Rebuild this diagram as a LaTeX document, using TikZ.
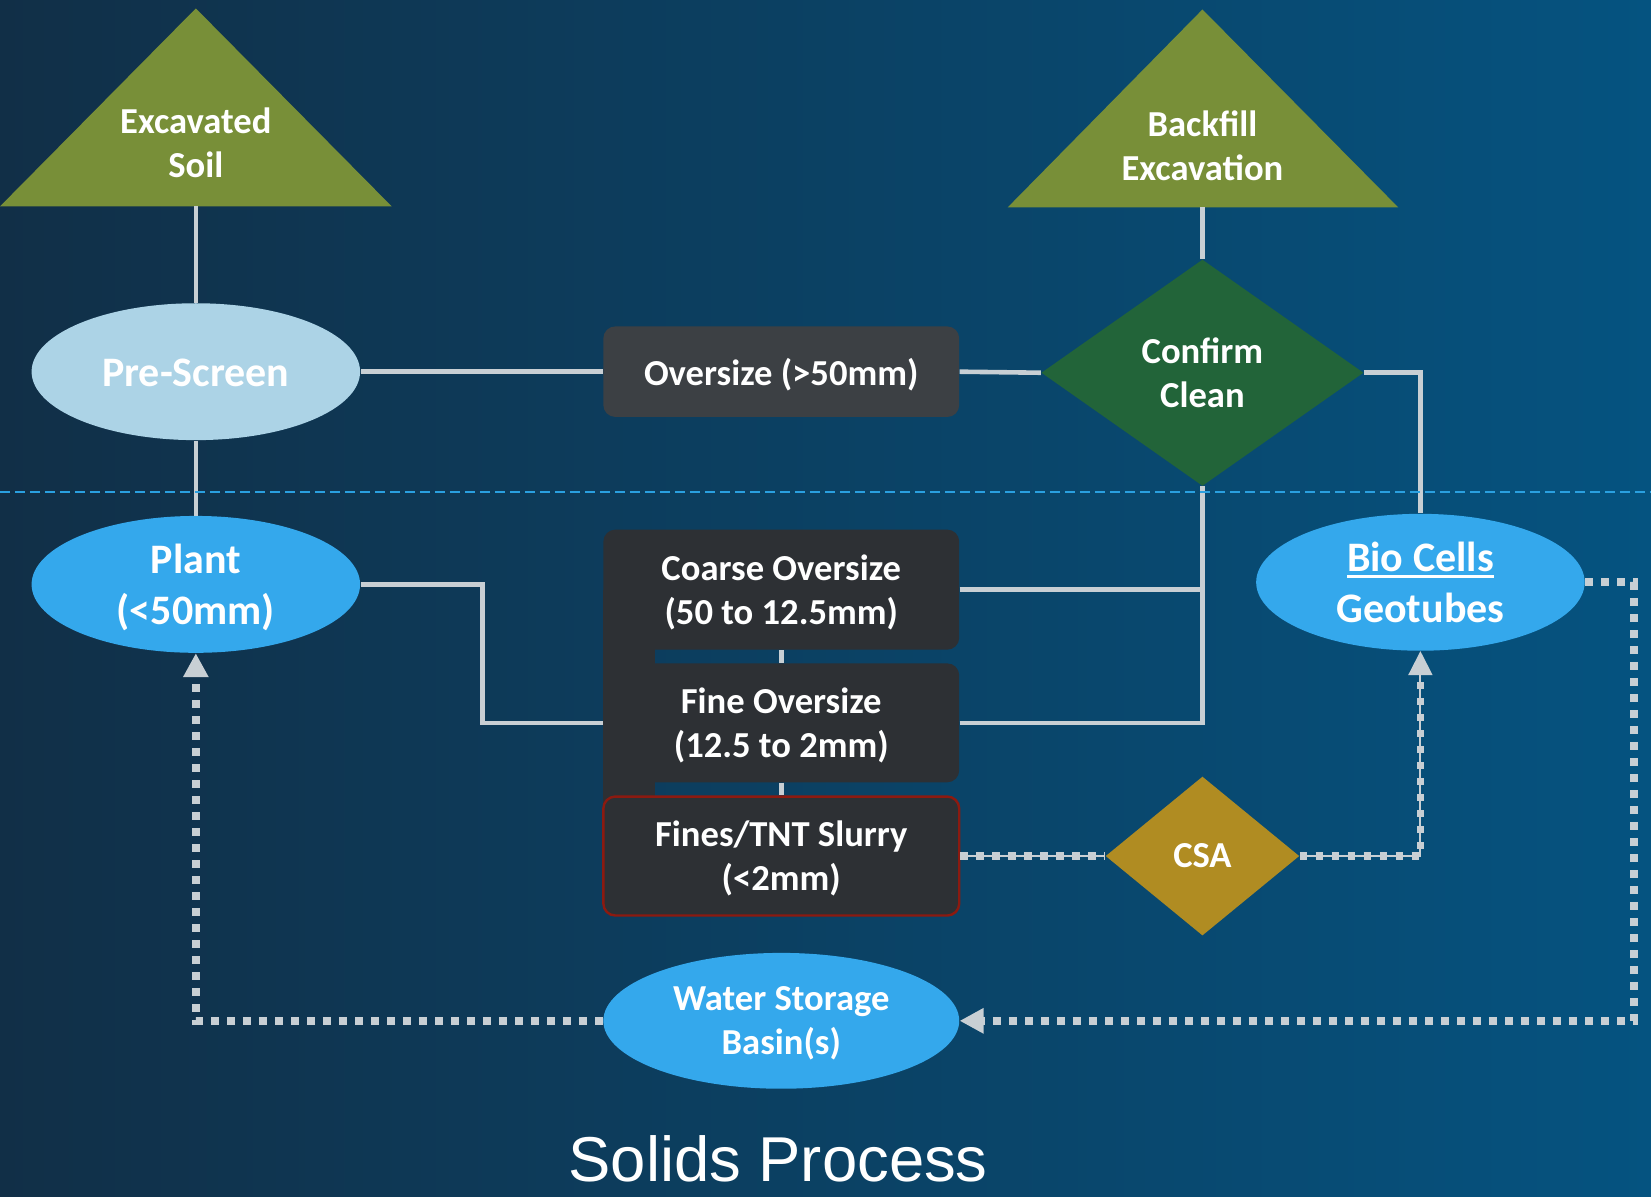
\documentclass[tikz,border=0pt]{standalone}
\usepackage{fontspec}
\setmainfont{Carlito}
\newfontfamily\titlefont{Liberation Sans}
\usetikzlibrary{shapes.geometric,arrows.meta,calc}
\definecolor{bgl}{RGB}{17,47,71}
\definecolor{bgr}{RGB}{5,83,128}
\definecolor{olivec}{RGB}{120,143,56}
\definecolor{lblue}{RGB}{172,211,230}
\definecolor{bblue}{RGB}{52,168,236}
\definecolor{boxg}{RGB}{60,64,68}
\definecolor{boxd}{RGB}{45,48,52}
\definecolor{dgreen}{RGB}{34,100,57}
\definecolor{goldc}{RGB}{176,140,34}
\definecolor{lineg}{RGB}{200,207,212}
\definecolor{dred}{RGB}{140,26,16}
\definecolor{divc}{RGB}{42,160,224}
\def\pxu{0.52647pt}
\newcommand\ulbio[1]{\setbox0\hbox{#1}\leavevmode\rlap{\rule[-3pt]{\wd0}{1.4pt}}\box0}
\begin{document}
\begin{tikzpicture}[x=0.52647pt,y=-0.52647pt,
  txt/.style={text=white, align=center, font=\bfseries\fontsize{18.3}{22}\selectfont},
  bigtxt/.style={text=white, align=center, font=\bfseries\fontsize{21}{25.3}\selectfont},
  ell/.style={ellipse, inner sep=0pt, minimum width=312*\pxu, minimum height=130*\pxu},
  boxn/.style={rectangle, rounded corners=6pt, inner sep=0pt, minimum width=338*\pxu, txt},
  conn/.style={draw=lineg, line width=2.3pt},
  dots/.style={draw=lineg, line width=4pt, dash pattern=on 4pt off 4pt},
  sqd/.style={draw=lineg, line width=3.6pt, dash pattern=on 3.6pt off 4.4pt},
  thinl/.style={draw=lineg, line width=1pt},
  tip/.style={-{Triangle[width=12pt,length=12pt]}},
  divider/.style={draw=divc, line width=1.1pt, dash pattern=on 5pt off 2.5pt}
]
\useasboundingbox (0,0) rectangle (1568,1136);
\shade[left color=bgl, right color=bgr] (0,0) rectangle (1568,1136);

% triangles
\fill[olivec] (186,8) -- (372,196) -- (0,196) -- cycle;
\node[txt] (exc) at (186,136) {Excavated\\Soil};
\coordinate (excb) at (186,196);
\fill[olivec] (1142,9) -- (1328,197) -- (957,197) -- cycle;
\node[txt] (back) at (1142,138) {Backfill\\Excavation};
\coordinate (backb) at (1142,197);

% left dark bar behind stacked boxes
\fill[boxd] (573,560) rectangle (622,813);

% nodes
\node[ell, fill=lblue, bigtxt, text height=15.4pt] (ps) at (186,353) {Pre-Screen};
\node[ell, fill=bblue, bigtxt, text depth=0pt] (plant) at (186,555) {Plant\\(<50mm)};
\node[ell, fill=bblue, bigtxt] (bio) at (1349,553) {\ulbio{Bio Cells}\\Geotubes};
\node[ell, fill=bblue, txt, text depth=0pt, minimum width=338*\pxu, minimum height=129*\pxu] (water) at (742,969.5) {Water Storage\\Basin(s)};
\node[boxn, fill=boxg, text depth=0pt, minimum height=86*\pxu] (over) at (742,353) {Oversize (>50mm)};
\node[boxn, fill=boxd, text depth=0pt, minimum height=114*\pxu] (coarse) at (742,560) {Coarse Oversize\\(50 to 12.5mm)};
\node[boxn, fill=boxd, text depth=0pt, minimum height=113*\pxu] (fine) at (742,686.5) {Fine Oversize\\(12.5 to 2mm)};
\node[boxn, fill=boxd, draw=dred, line width=1.2pt, text depth=0pt, minimum height=113*\pxu] (slurry) at (742,813) {Fines/TNT Slurry\\(<2mm)};
\node[diamond, fill=dgreen, inner sep=0pt, minimum width=306*\pxu, minimum height=215*\pxu, txt] (conf) at (1142,354) {Confirm\\Clean};
\node[diamond, fill=goldc, inner sep=0pt, minimum width=184*\pxu, minimum height=151*\pxu, txt] (csa) at (1142,813) {CSA};

% solid connectors
\draw[conn] (excb) -- (ps.north);
\draw[conn] (ps.south) -- (plant.north);
\draw[conn] (ps.east) -- (over.west);
\draw[conn] (over.east) -- (conf.west);
\draw[conn] (backb) -- (conf.north);
\draw[conn] (conf.east) -| (bio.north);
\draw[conn] (plant.east) -- ++(116,0) |- (fine.west);
\draw[conn] (coarse.east) -- (coarse.east -| conf.south);
\draw[conn] (fine.east) -| (conf.south);
\draw[conn] (coarse.south) -- (fine.north);
\draw[conn] (fine.south) -- (slurry.north);

% divider
\draw[divider] (0,467) -- (1568,467);

% dotted connectors
\draw[dots, tip] (water.west) -| (plant.south);
\draw[dots, tip] (bio.east) -- ++(46,0) |- (water.east);
\draw[thinl] (slurry.east) -- (csa.west);
\draw[sqd] (slurry.east) -- (csa.west);
\draw[thinl, tip] (csa.east) -| (bio.south);
\draw[sqd, shorten >=12pt] (csa.east) -| (bio.south);

% title
\node[text=white, font=\titlefont\fontsize{31.7}{36}\selectfont] (title) at (739,1101) {Solids Process};
\end{tikzpicture}
\end{document}
